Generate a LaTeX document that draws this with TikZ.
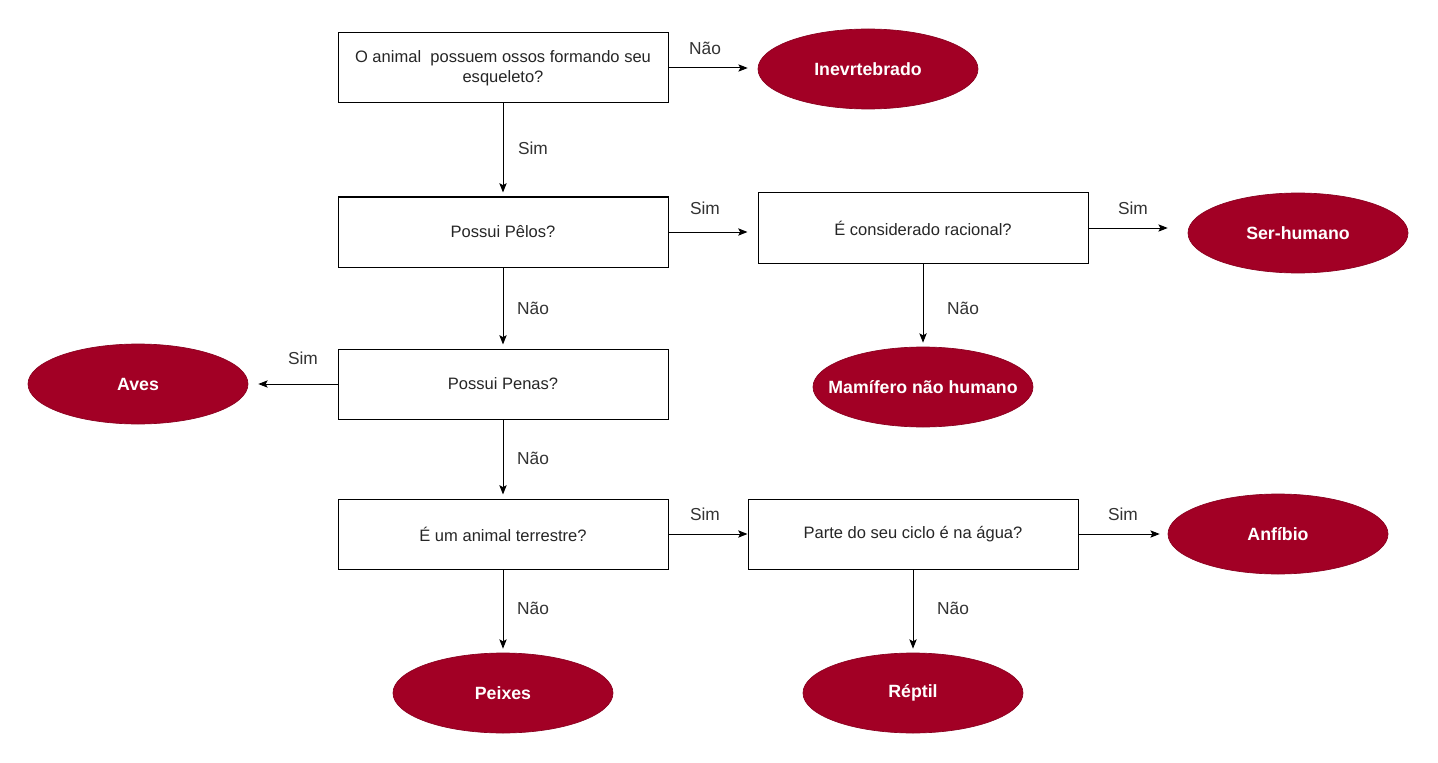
\documentclass[tikz,border=0pt]{standalone}
\usepackage{fontspec}
\setmainfont{Liberation Sans}
\usetikzlibrary{arrows.meta,shapes.geometric}
\definecolor{endred}{HTML}{A20025}
\definecolor{endborder}{HTML}{8A001F}
\tikzset{
  qbox/.style={draw=black, line width=0.75pt, fill=white, rectangle, minimum width=247.5pt, minimum height=52.5pt, align=center, font=\fontsize{12.4pt}{15pt}\selectfont, inner sep=2pt, text=black!85},
  endnode/.style={ellipse, fill=endred, draw=endborder, line width=0.5pt, minimum width=165pt, minimum height=60pt, text=white, font=\fontsize{13.3pt}{16pt}\selectfont\bfseries, inner sep=0pt},
  conn/.style={draw=black, line width=0.75pt, -{Stealth[length=7pt,width=5.5pt,inset=1.5pt]}},
  lbl/.style={font=\fontsize{13pt}{15pt}\selectfont, text=black!80}
}
\newcommand{\zw}[1]{\makebox[0pt]{#1}}
\begin{document}
\begin{tikzpicture}[x=0.75pt,y=-0.75pt]
\useasboundingbox (0,0) rectangle (1438,763);
\fill[white] (0,0) rectangle (1438,763);
% question boxes
\node[qbox] (q1) at (503,68) {O animal\ \ possuem ossos formando seu\\esqueleto?};
\node[qbox] (q2) at (503,232) {Possui Pêlos?};
\node[qbox] (q3) at (923,228) {É considerado racional?};
\node[qbox] (q4) at (503,384) {Possui Penas?};
\node[qbox] (q5) at (503,534) {É um animal terrestre?};
\node[qbox] (q6) at (913,534) {Parte do seu ciclo é na água?};
% end nodes
\node[endnode] (inv) at (868,69) {\zw{Inevrtebrado}};
\node[endnode] (hum) at (1298,233) {\zw{Ser-humano}};
\node[endnode] (mam) at (923,387) {\zw{Mamífero não humano}};
\node[endnode] (ave) at (138,384) {\zw{Aves}};
\node[endnode] (anf) at (1278,534) {\zw{Anfíbio}};
\node[endnode] (pei) at (503,693) {\zw{Peixes}};
\node[endnode] (rep) at (913,693) {\zw{Réptil}};
% connectors
\draw[conn, shorten >=7.5pt] (q1.east) -- (q1.east -| inv.west);
\draw[conn, shorten >=3pt] (q1.south) -- (q2.north);
\draw[conn, shorten >=7.5pt] (q2.east) -- (q2.east -| q3.west);
\draw[conn, shorten >=15pt] (q3.east) -- (q3.east -| hum.west);
\draw[conn, shorten >=3pt] (q3.south) -- (mam.north);
\draw[conn, shorten >=3pt] (q2.south) -- (q4.north);
\draw[conn, shorten >=7.5pt] (q4.west) -- (q4.west -| ave.east);
\draw[conn, shorten >=3pt] (q4.south) -- (q5.north);
\draw[conn] (q5.east) -- (q6.west);
\draw[conn, shorten >=6pt] (q6.east) -- (anf.west);
\draw[conn, shorten >=3pt] (q5.south) -- (pei.north);
\draw[conn, shorten >=3pt] (q6.south) -- (rep.north);
% labels
\node[lbl] (l1) at (705,48) {Não};
\node[lbl] (l2) at (533,148) {Sim};
\node[lbl] (l3) at (705,208) {Sim};
\node[lbl] (l4) at (1133,208) {Sim};
\node[lbl] (l5) at (963,308) {Não};
\node[lbl] (l6) at (533,308) {Não};
\node[lbl] (l7) at (303,358) {Sim};
\node[lbl] (l8) at (533,458) {Não};
\node[lbl] (l9) at (705,514) {Sim};
\node[lbl] (l10) at (1123,514) {Sim};
\node[lbl] (l11) at (533,608) {Não};
\node[lbl] (l12) at (953,608) {Não};
\end{tikzpicture}
\end{document}
